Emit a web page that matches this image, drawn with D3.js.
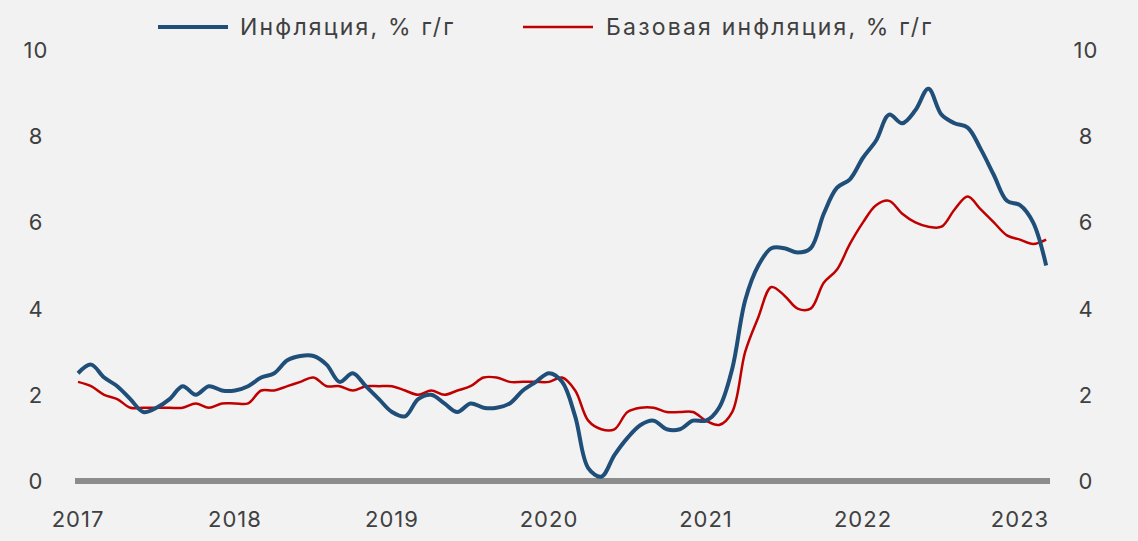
<!DOCTYPE html>
<html><head><meta charset="utf-8">
<script src="https://cdn.jsdelivr.net/npm/d3@7"></script>
<style>body{margin:0;background:#f2f2f2;font-family:Inter,"Noto Sans",sans-serif}</style>
</head><body>
<svg id="c" width="1138" height="541"></svg>
<script>
// monthly values, Jan 2017 .. Mar 2023
const inflation = [
  2.5,2.7,2.4,2.2,1.9,1.6,1.7,1.9,2.2,2.0,2.2,2.1,
  2.1,2.2,2.4,2.5,2.8,2.9,2.9,2.7,2.3,2.5,2.2,1.9,
  1.6,1.5,1.9,2.0,1.8,1.6,1.8,1.7,1.7,1.8,2.1,2.3,
  2.5,2.3,1.5,0.3,0.1,0.6,1.0,1.3,1.4,1.2,1.2,1.4,
  1.4,1.7,2.6,4.2,5.0,5.4,5.4,5.3,5.4,6.2,6.8,7.0,
  7.5,7.9,8.5,8.3,8.6,9.1,8.5,8.3,8.2,7.7,7.1,6.5,
  6.4,6.0,5.0];
const coreInflation = [
  2.3,2.2,2.0,1.9,1.7,1.7,1.7,1.7,1.7,1.8,1.7,1.8,
  1.8,1.8,2.1,2.1,2.2,2.3,2.4,2.2,2.2,2.1,2.2,2.2,
  2.2,2.1,2.0,2.1,2.0,2.1,2.2,2.4,2.4,2.3,2.3,2.3,
  2.3,2.4,2.1,1.4,1.2,1.2,1.6,1.7,1.7,1.6,1.6,1.6,
  1.4,1.3,1.6,3.0,3.8,4.5,4.3,4.0,4.0,4.6,4.9,5.5,
  6.0,6.4,6.5,6.2,6.0,5.9,5.9,6.3,6.6,6.3,6.0,5.7,
  5.6,5.5,5.6];
const years = [2017,2018,2019,2020,2021,2022,2023];
const yTicks = [0,2,4,6,8,10];

const svg = d3.select('#c');
const x = d3.scaleLinear().domain([0, 72]).range([78, 1020]);
const y = d3.scaleLinear().domain([0, 10]).range([481, 50]);
const txt = '#404040';

// zero line
svg.append('line').attr('x1', 75).attr('x2', 1050).attr('y1', y(0)).attr('y2', y(0))
  .attr('stroke', '#8c8c8c').attr('stroke-width', 6);

// axes as text
svg.selectAll('.yl').data(yTicks).enter().append('text')
  .attr('x', 36).attr('y', d => y(d) + 8).attr('text-anchor', 'middle')
  .attr('font-size', 22).attr('letter-spacing', 1).attr('fill', txt).text(d => d);
svg.selectAll('.yr').data(yTicks).enter().append('text')
  .attr('x', 1086).attr('y', d => y(d) + 8).attr('text-anchor', 'middle')
  .attr('font-size', 22).attr('letter-spacing', 1).attr('fill', txt).text(d => d);
svg.selectAll('.xl').data(years).enter().append('text')
  .attr('x', (d, i) => x(i * 12)).attr('y', 527).attr('text-anchor', 'middle')
  .attr('font-size', 22).attr('letter-spacing', 1).attr('fill', txt).text(d => d);

const line = d3.line().x((d, i) => x(i)).y(d => y(d)).curve(d3.curveCatmullRom);
svg.append('path').attr('d', line(coreInflation)).attr('fill', 'none')
  .attr('stroke', '#c00000').attr('stroke-width', 2.5);
svg.append('path').attr('d', line(inflation)).attr('fill', 'none')
  .attr('stroke', '#1f4e79').attr('stroke-width', 4);

// legend
svg.append('line').attr('x1', 158).attr('x2', 228).attr('y1', 27).attr('y2', 27)
  .attr('stroke', '#1f4e79').attr('stroke-width', 4);
svg.append('text').attr('x', 240).attr('y', 35).attr('font-size', 23).attr('letter-spacing', 2.2)
  .attr('fill', txt).text('Инфляция, % г/г');
svg.append('line').attr('x1', 523).attr('x2', 593).attr('y1', 27).attr('y2', 27)
  .attr('stroke', '#c00000').attr('stroke-width', 2.5);
svg.append('text').attr('x', 606).attr('y', 35).attr('font-size', 23).attr('letter-spacing', 2.2)
  .attr('fill', txt).text('Базовая инфляция, % г/г');
</script>
</body></html>
